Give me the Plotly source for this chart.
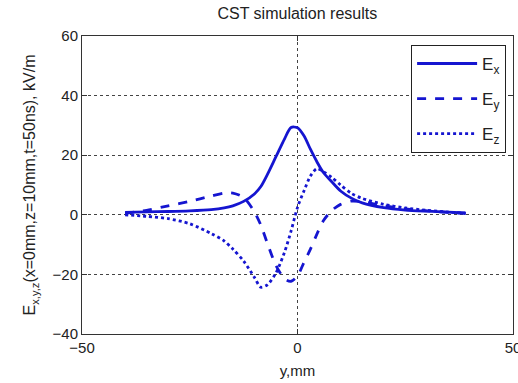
import plotly.graph_objects as go

y_mm = [-40, -35, -30, -25, -20, -17, -15, -12.5, -10, -8.5, -7, -5, -3, -1.5, 0,
        1.5, 3, 4.5, 6, 8, 10, 12.5, 15, 20, 25, 30, 35, 39]
Ex = [0.8, 1.0, 1.1, 1.3, 1.7, 2.3, 3.0, 4.5, 7, 9.5, 13.5, 19.5, 25.5, 29.3, 29.2,
      26.5, 22, 17.8, 14.2, 11, 8, 5.6, 4, 2.4, 1.6, 1.2, 0.9, 0.6]
Ey = [0.5, 1.5, 3.0, 4.5, 6.3, 7.3, 7.3, 5.8, 1, -3.5, -9.5, -17, -21.5, -22.3, -20.5,
      -16, -11.5, -6.5, -2, 1.5, 3.5, 4.6, 4.4, 3.0, 2.0, 1.3, 0.8, 0.5]
Ez = [0, -0.5, -1.3, -3, -6.3, -8.8, -11.5, -15.5, -21, -24.3, -23.5, -19.5, -12.5, -5.5, 2.5,
      8, 13, 15.5, 14.5, 12.5, 10, 7.2, 5.5, 3.5, 2.3, 1.5, 0.9, 0.5]

names = ["E<sub>x</sub>", "E<sub>y</sub>", "E<sub>z</sub>"]
dashes = ["solid", "dash", "dot"]
color = "#1515d0"

fig = go.Figure()
for i, (vals, nm, ds) in enumerate(zip([Ex, Ey, Ez], names, dashes)):
    fig.add_trace(go.Scatter(
        x=y_mm, y=vals, mode="lines", name=nm, legendgroup=str(i),
        line=dict(color=color, width=2.8, dash=ds, shape="spline", smoothing=0.8),
    ))

axis_common = dict(
    showline=True, mirror="ticks", linecolor="#333", linewidth=1,
    ticks="inside", ticklen=5, tickcolor="#333",
    showgrid=True, gridcolor="#444", griddash="dot", gridwidth=1,
    zeroline=False, tickfont=dict(size=15, color="#222"),
    ticklabeloverflow="allow", automargin=False,
)

fig.update_xaxes(range=[-50, 50], tickvals=[-50, 0, 50],
                 title=dict(text="y,mm", font=dict(size=15, color="#222"), standoff=10),
                 **axis_common)
fig.update_yaxes(range=[-40, 60], tickvals=[-40, -20, 0, 20, 40, 60],
                 title=dict(text="E<sub>x,y,z</sub>(x=0mm,z=10mm,t=50ns), kV/m",
                            font=dict(size=16, color="#222"), standoff=12),
                 **axis_common)

fig.update_layout(
    width=518, height=383,
    margin=dict(l=82, r=5, t=36, b=49),
    paper_bgcolor="white", plot_bgcolor="white",
    font=dict(family="Liberation Sans, Arial, sans-serif", color="#222"),
    title=dict(text="CST simulation results", x=0.574, xanchor="center",
               y=0.965, yanchor="middle", font=dict(size=16, color="#222")),
    legend=dict(x=0.984, y=0.97, xanchor="right", yanchor="top",
                bgcolor="white", bordercolor="#222", borderwidth=1,
                font=dict(size=17, color="#222"), tracegroupgap=10,
                traceorder="grouped", itemwidth=60),
    showlegend=True,
)

fig.write_html("out.html")
